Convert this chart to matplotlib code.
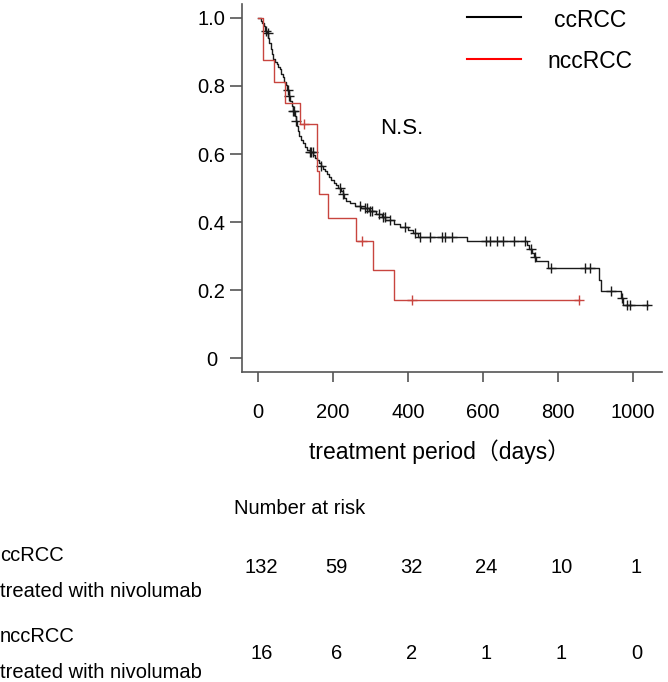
import numpy as np
import matplotlib
matplotlib.use("Agg")
import matplotlib.pyplot as plt
import matplotlib.transforms as mtransforms

plt.rcParams['font.family'] = ['Liberation Sans', 'Noto Sans CJK JP', 'DejaVu Sans']

# ---------------- data ----------------
# ccRCC Kaplan-Meier: event times (days) and survival after each step
cc_time = [0, 8, 12, 17, 20, 24, 28, 31, 34, 37, 41, 46, 50, 55, 58, 62, 66, 70, 74, 78,
           82, 86, 90, 94, 98, 101, 104, 107, 110, 114, 120, 126, 132, 140, 148, 153, 158,
           163, 168, 173, 178, 184, 190, 196, 202, 208, 214, 222, 226, 230, 236, 246, 260,
           276, 296, 316, 330, 340, 362, 380, 400, 415, 428, 557, 717, 724, 731, 737, 742,
           774, 910, 915, 970, 974]
cc_surv = [1.0, 0.992, 0.985, 0.977, 0.962, 0.955, 0.94, 0.925, 0.91, 0.895, 0.88, 0.872,
           0.865, 0.857, 0.849, 0.834, 0.826, 0.811, 0.803, 0.788, 0.772, 0.757, 0.742, 0.727,
           0.712, 0.697, 0.682, 0.667, 0.652, 0.641, 0.633, 0.621, 0.613, 0.605, 0.597, 0.589,
           0.581, 0.573, 0.565, 0.557, 0.549, 0.541, 0.533, 0.525, 0.516, 0.508, 0.499, 0.490,
           0.481, 0.471, 0.463, 0.455, 0.447, 0.440, 0.432, 0.423, 0.414, 0.405, 0.395, 0.386,
           0.376, 0.367, 0.357, 0.345, 0.333, 0.321, 0.309, 0.297, 0.286, 0.264, 0.23, 0.198,
           0.177, 0.156]
cc_end = 1040
cc_censor = [22, 26, 80, 83, 95, 97, 102, 140, 143, 146, 168, 218, 228, 273, 285, 292, 300,
             305, 322, 335, 339, 353, 393, 419, 433, 459, 491, 499, 517, 610, 619, 639, 653,
             684, 713, 728, 740, 781, 873, 886, 941, 971, 985, 993, 1039]

# nccRCC Kaplan-Meier
ncc_time = [0, 15, 43, 72, 113, 157, 164, 188, 261, 307, 362]
ncc_surv = [1.0, 0.875, 0.8125, 0.75, 0.6875, 0.55, 0.481, 0.4125, 0.344, 0.258, 0.172]
ncc_end = 858
ncc_censor = [124, 279, 411, 858]

x_ticks = [0, 200, 400, 600, 800, 1000]
y_ticks = [0, 0.2, 0.4, 0.6, 0.8, 1.0]
y_ticklabels = ["0", "0.2", "0.4", "0.6", "0.8", "1.0"]

risk_cc = [132, 59, 32, 24, 10, 1]
risk_ncc = [16, 6, 2, 1, 1, 0]

series_names = ["ccRCC", "nccRCC"]
row_labels = ["ccRCC", "treated with nivolumab", "nccRCC", "treated with nivolumab"]

# ---------------- plot ----------------
fig = plt.figure(figsize=(6.68, 6.82), dpi=100)
ax = fig.add_axes([0.3623, 0.4545, 0.6287, 0.5396])

red_curve = '#c8453f'
gray = '#555555'


def km_step(ax, t, s, end, censor, color):
    tt = list(t) + [end]
    ss = list(s) + [s[-1]]
    ax.step(tt, ss, where='post', color=color, lw=1.0)
    # censor marks placed on the curve
    t_arr = np.array(t)
    s_arr = np.array(s)
    cy = [s_arr[np.searchsorted(t_arr, c, side='right') - 1] for c in censor]
    ax.plot(censor, cy, linestyle='none', marker='+', markersize=7, mew=1.0, color=color)


km_step(ax, cc_time, cc_surv, cc_end, cc_censor, '#1a1a1a')
km_step(ax, ncc_time, ncc_surv, ncc_end, ncc_censor, red_curve)

ax.set_xlim(-42, 1078)
ax.set_ylim(-0.041, 1.041)
for sp in ['top', 'right']:
    ax.spines[sp].set_visible(False)
for sp in ['left', 'bottom']:
    ax.spines[sp].set_color(gray)
    ax.spines[sp].set_linewidth(1.2)

ax.set_xticks(x_ticks)
ax.set_xticklabels([str(v) for v in x_ticks], fontsize=14.5)
ax.set_yticks(y_ticks)
ax.set_yticklabels(y_ticklabels, fontsize=14.5, ha='center')
ax.tick_params(axis='both', colors=gray, labelcolor='black', length=7, width=1.2)
ax.tick_params(axis='y', length=9, pad=13)
ax.tick_params(axis='x', pad=15)

ax.set_xlabel("treatment period（days）", fontsize=16.5)
ax.xaxis.set_label_coords(0.47, -0.183)

# legend (manual)
ax.plot([0.535, 0.664], [0.9655, 0.9655], transform=ax.transAxes, color='black', lw=1.5)
ax.plot([0.535, 0.664], [0.8505, 0.8505], transform=ax.transAxes, color='red', lw=1.5)
ax.text(0.8286, 0.9565, series_names[0], transform=ax.transAxes, fontsize=16.5,
        ha='center', va='center')
ax.text(0.8286, 0.843, series_names[1], transform=ax.transAxes, fontsize=16.5,
        ha='center', va='center')

ax.text(384, 0.676, "N.S.", fontsize=16, ha='center', va='center')

# number at risk table
fig.text(0.350, 0.2537, "Number at risk", fontsize=14.5, ha='left', va='center')
row_y = [0.1862, 0.132, 0.066, 0.0132]
for lab, yy in zip(row_labels, row_y):
    fig.text(0.0, yy, lab, fontsize=14.5, ha='left', va='center')

trans = mtransforms.blended_transform_factory(ax.transData, fig.transFigure)
for xv, n in zip(x_ticks, risk_cc):
    fig.text(xv + 10, 0.1686, str(n), transform=trans, fontsize=14.5, ha='center', va='center')
for xv, n in zip(x_ticks, risk_ncc):
    fig.text(xv + 10, 0.0425, str(n), transform=trans, fontsize=14.5, ha='center', va='center')

fig.savefig("out.png", dpi=100)
